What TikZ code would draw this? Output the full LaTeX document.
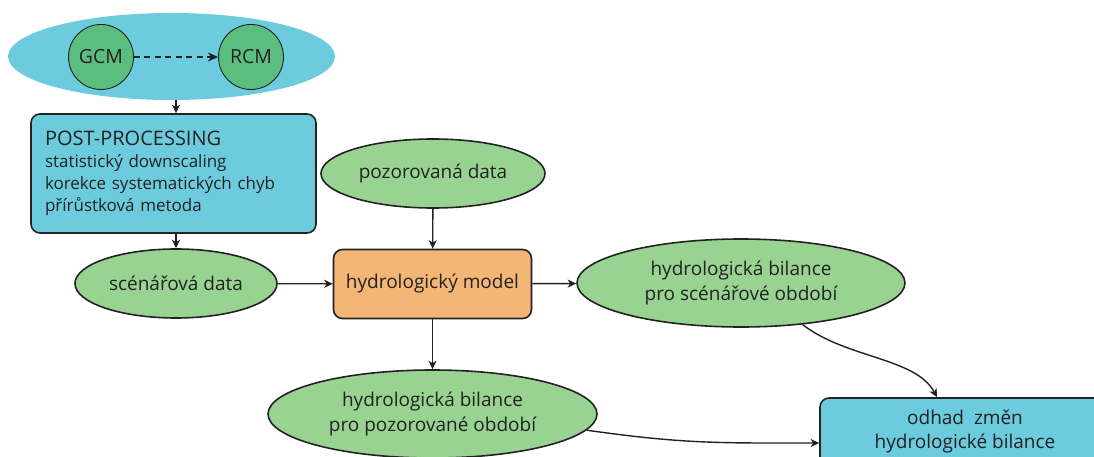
\documentclass[tikz,border=0pt]{standalone}
\usepackage{fontspec}
\setmainfont{Open Sans}
\usetikzlibrary{shapes.geometric,arrows.meta,calc}
\definecolor{skyfill}{HTML}{6CCBDC}
\definecolor{gcmgreen}{HTML}{5BBE7E}
\definecolor{lightgreen}{HTML}{98D391}
\definecolor{modelorange}{HTML}{F4B677}
\definecolor{ink}{HTML}{222222}
\tikzset{
  txt/.style={text=ink,font=\fontsize{19}{25}\selectfont,align=center},
  oval/.style={txt,ellipse,draw=ink,line width=1.6pt,fill=lightgreen,inner sep=0pt},
  gcirc/.style={txt,circle,draw=ink,line width=0.9pt,fill=gcmgreen,inner sep=0pt,minimum size=65pt,font=\fontsize{19.5}{22}\selectfont},
  rbox/.style={txt,rectangle,rounded corners=9pt,draw=ink,line width=1.6pt},
  arr/.style={draw=ink,line width=1.4pt,-{Stealth[length=8.5pt,width=8pt,inset=2.5pt]}},
}
\begin{document}
\begin{tikzpicture}[x=1pt,y=-1pt]
\useasboundingbox (0,0) rectangle (1094,457);
\clip (0,0) rectangle (1094,457);

% climate models
\node[ellipse,fill=skyfill,inner sep=0pt,minimum width=327pt,minimum height=87pt] (cloud) at (171.5,56.5) {};
\node[gcirc] (gcm) at (101,57) {GCM};
\node[gcirc] (rcm) at (251,57) {RCM};
\draw[draw=ink,line width=2.6pt,dash pattern=on 6pt off 4.5pt,-{Stealth[length=10pt,width=9pt,inset=3pt]}] (gcm) -- (rcm);

% post-processing
\node[rbox,fill=skyfill,minimum width=285pt,minimum height=119pt,text width=257pt,align=left,
      font=\fontsize{17}{22}\selectfont] (post) at (173.5,173.5)
  {{\fontsize{20}{22}\selectfont POST-PROCESSING}\\
   statistický downscaling\\
   korekce systematických chyb\\
   přírůstková metoda};

% data and model
\node[oval,minimum width=202pt,minimum height=69pt] (sc) at (176,283.5) {scénářová data};
\node[oval,minimum width=224pt,minimum height=69pt] (poz) at (433,173.5) {pozorovaná data};
\node[rbox,fill=modelorange,minimum width=198pt,minimum height=69pt] (model) at (432.5,284) {hydrologický model};
\node[oval,minimum width=328pt,minimum height=88pt] (rs) at (741,283) {hydrologická bilance\\pro scénářové období};
\node[oval,minimum width=329pt,minimum height=88pt] (lo) at (432.5,414) {hydrologická bilance\\pro pozorované období};
\node[rbox,fill=skyfill,minimum width=290pt,minimum height=68pt,font=\fontsize{19}{24}\selectfont] (odhad) at (965,432) {odhad~ změn\\hydrologické bilance};

% connectors (y grows downwards, so polar angles below the horizontal are positive)
\draw[arr] (cloud.south -| sc) -- (post.north -| sc);
\draw[arr] (post.south -| sc) -- (sc.north);
\draw[arr] (poz) -- (model);
\draw[arr] (sc) -- (model);
\draw[arr] (model) -- (rs);
\draw[arr] (model) -- (lo);
\draw[arr] (rs.-34) .. controls +(38:55) and +(-118:45) .. ([xshift=-28pt]odhad.north);
\draw[arr] (lo.-6) .. controls +(8:100) and +(180:100) .. ([yshift=-11pt]odhad.west);
\end{tikzpicture}
\end{document}
